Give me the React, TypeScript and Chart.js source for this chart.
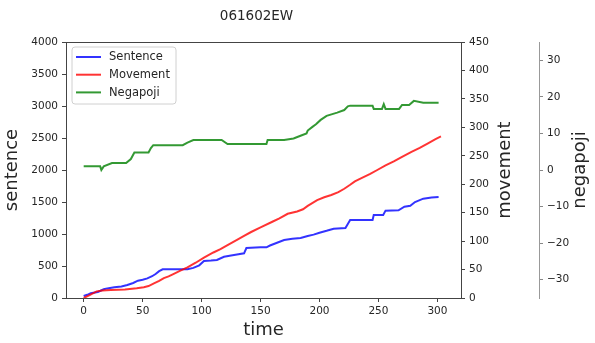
import React, { useEffect, useRef } from "react";
import { Chart, registerables } from "chart.js";

Chart.register(...registerables);

const chartTitle = "061602EW";
const seriesLabels = ["Sentence", "Movement", "Negapoji"];
const axisTitles = { x: "time", sentence: "sentence", movement: "movement", negapoji: "negapoji" };

const xTicks = [0, 50, 100, 150, 200, 250, 300];
const sentenceTicks = [0, 500, 1000, 1500, 2000, 2500, 3000, 3500, 4000];
const movementTicks = [0, 50, 100, 150, 200, 250, 300, 350, 400, 450];
const negapojiTicks = [-30, -20, -10, 0, 10, 20, 30];

const sentenceTime = [0, 3, 6, 12, 17, 20, 26, 32, 37, 42, 46, 50, 54, 58, 61, 64, 67, 88, 93, 98, 102, 108, 113, 119, 125, 130, 136, 138, 150, 155, 158, 164, 170, 177, 184, 190, 195, 200, 206, 212, 222, 226, 245, 246, 254, 256, 267, 272, 277, 281, 288, 295, 301];
const sentenceValues = [31, 50, 73, 95, 136, 150, 167, 180, 203, 235, 270, 285, 307, 340, 375, 420, 448, 448, 470, 511, 578, 585, 594, 645, 665, 680, 698, 780, 792, 792, 820, 864, 906, 925, 937, 969, 990, 1020, 1050, 1083, 1094, 1219, 1219, 1297, 1297, 1365, 1370, 1427, 1440, 1500, 1552, 1570, 1578];

const movementTime = [0, 5, 11, 16, 23, 35, 45, 51, 55, 60, 64, 68, 72, 76, 82, 88, 95, 102, 110, 116, 122, 130, 136, 142, 150, 160, 166, 173, 181, 186, 190, 198, 204, 210, 216, 221, 226, 230, 236, 243, 249, 256, 263, 270, 278, 285, 292, 298, 303];
const movementValues = [0, 5, 11.7, 13, 14, 15, 17, 19, 21, 26, 30, 35, 38, 42, 48, 54, 62, 71, 80, 86, 93, 102, 109, 116, 124, 134, 140, 148, 152, 156, 162, 172, 177, 181, 186, 192, 199, 205, 211, 218, 225, 233, 240, 248, 257, 264, 272, 279, 284];

const negapojiTime = [0, 14, 15, 17, 24, 36, 40, 43, 55, 57, 59, 84, 88, 93, 117, 122, 155, 156, 170, 178, 185, 189, 190, 194, 197, 201, 206, 215, 221, 224, 226, 245, 246, 253, 254.5, 256, 267.5, 270, 276, 280, 288, 301];
const negapojiValues = [1, 1, 0, 1, 1.9, 1.9, 3, 4.8, 4.8, 6, 6.8, 6.8, 7.5, 8.2, 8.2, 7.1, 7.1, 8.2, 8.2, 8.6, 9.5, 10, 10.8, 11.8, 12.5, 13.7, 14.8, 15.7, 16.4, 17.4, 17.6, 17.6, 16.7, 16.7, 18, 16.7, 16.7, 17.8, 17.8, 18.9, 18.4, 18.4];

const FONT = "'DejaVu Sans', sans-serif";
const TEXT = "#262626";
const SPINE = "#444";

const toPoints = (t: number[], v: number[]) => t.map((x, i) => ({ x, y: v[i] }));
const fmt = (v: number) => (v < 0 ? "\u2212" + Math.abs(v) : String(v));

const overlay = {
  id: "overlay",
  afterDraw(chart: any) {
    const { ctx, chartArea: a } = chart;
    ctx.save();
    // top spine
    ctx.strokeStyle = SPINE;
    ctx.lineWidth = 1;
    ctx.beginPath();
    ctx.moveTo(a.left, Math.round(a.top) + 0.5);
    ctx.lineTo(a.right, Math.round(a.top) + 0.5);
    ctx.stroke();

    // title
    ctx.fillStyle = TEXT;
    ctx.font = `13.5px ${FONT}`;
    ctx.textAlign = "center";
    ctx.textBaseline = "alphabetic";
    ctx.fillText(chartTitle, 256.5, 19.5);

    // right axis titles (rotated like matplotlib)
    const cy = (a.top + a.bottom) / 2;
    ctx.font = `18px ${FONT}`;
    ctx.textBaseline = "middle";
    const y1 = chart.scales.y1;
    const y2 = chart.scales.y2;
    [[y1.left + 44, axisTitles.movement], [y2.left + 41, axisTitles.negapoji]].forEach(([x, t]: any) => {
      ctx.save();
      ctx.translate(x, cy);
      ctx.rotate(-Math.PI / 2);
      ctx.fillText(t, 0, 0);
      ctx.restore();
    });

    // legend
    const bx = a.left + 6, by = a.top + 5, bw = 104, bh = 57;
    ctx.beginPath();
    const r = 3;
    ctx.moveTo(bx + r, by);
    ctx.arcTo(bx + bw, by, bx + bw, by + bh, r);
    ctx.arcTo(bx + bw, by + bh, bx, by + bh, r);
    ctx.arcTo(bx, by + bh, bx, by, r);
    ctx.arcTo(bx, by, bx + bw, by, r);
    ctx.closePath();
    ctx.fillStyle = "rgba(255,255,255,0.8)";
    ctx.fill();
    ctx.strokeStyle = "#d0d0d0";
    ctx.lineWidth = 1;
    ctx.stroke();
    ctx.font = `11.5px ${FONT}`;
    ctx.textAlign = "left";
    ctx.textBaseline = "middle";
    chart.data.datasets.forEach((ds: any, i: number) => {
      const yy = by + 10 + i * 17.7;
      ctx.strokeStyle = ds.borderColor;
      ctx.lineWidth = 2;
      ctx.beginPath();
      ctx.moveTo(bx + 4, yy);
      ctx.lineTo(bx + 29, yy);
      ctx.stroke();
      ctx.fillStyle = TEXT;
      ctx.fillText(ds.label, bx + 37, yy + 0.5);
    });
    ctx.restore();
  },
};

export default function App() {
  const ref = useRef<HTMLCanvasElement>(null);
  useEffect(() => {
    if (!ref.current) return;
    const tickFont = { family: FONT, size: 10.5 };
    const grid = (color: string) => ({ drawOnChartArea: false, drawTicks: true, tickLength: 4, color, lineWidth: 1 });
    const chart = new Chart(ref.current, {
      type: "line",
      data: {
        datasets: [
          { label: seriesLabels[0], data: toPoints(sentenceTime, sentenceValues), yAxisID: "y", borderColor: "rgba(0,0,255,0.8)", order: 2 },
          { label: seriesLabels[1], data: toPoints(movementTime, movementValues), yAxisID: "y1", borderColor: "rgba(255,0,0,0.8)", order: 1 },
          { label: seriesLabels[2], data: toPoints(negapojiTime, negapojiValues), yAxisID: "y2", borderColor: "rgba(0,128,0,0.8)", order: 0 },
        ].map((d) => ({ ...d, xAxisID: "x", borderWidth: 2, pointRadius: 0, tension: 0, fill: false })),
      },
      options: {
        responsive: false,
        animation: false,
        events: [],
        layout: { padding: { top: 42, left: 0, right: 0, bottom: 0 } },
        plugins: { legend: { display: false }, tooltip: { enabled: false }, title: { display: false } },
        scales: {
          x: {
            type: "linear",
            min: -15,
            max: 320,
            afterBuildTicks: (s: any) => { s.ticks = xTicks.map((value) => ({ value })); },
            afterFit: (s: any) => { s.height = 45; },
            grid: grid(SPINE),
            border: { display: true, color: SPINE, width: 1 },
            ticks: { font: tickFont, color: TEXT, padding: 3, maxRotation: 0, callback: (v: any) => fmt(v) },
            title: { display: true, text: axisTitles.x, font: { family: FONT, size: 18 }, color: TEXT, padding: { top: 0, bottom: 2 } },
          },
          y: {
            type: "linear",
            position: "left",
            min: 0,
            max: 4000,
            afterBuildTicks: (s: any) => { s.ticks = sentenceTicks.map((value) => ({ value })); },
            afterFit: (s: any) => { s.width = 66; },
            grid: grid(SPINE),
            border: { display: true, color: SPINE, width: 1 },
            ticks: { font: tickFont, color: TEXT, padding: 4, callback: (v: any) => fmt(v) },
            title: { display: true, text: axisTitles.sentence, font: { family: FONT, size: 18 }, color: TEXT, padding: { top: 2, bottom: 0 } },
          },
          y1: {
            type: "linear",
            position: "right",
            weight: 0,
            min: 0,
            max: 450,
            afterBuildTicks: (s: any) => { s.ticks = movementTicks.map((value) => ({ value })); },
            afterFit: (s: any) => { s.width = 78; },
            grid: grid(SPINE),
            border: { display: true, color: SPINE, width: 1 },
            ticks: { font: tickFont, color: TEXT, padding: 4, callback: (v: any) => fmt(v) },
            title: { display: false },
          },
          y2: {
            type: "linear",
            position: "right",
            weight: 1,
            min: -35,
            max: 35,
            afterBuildTicks: (s: any) => { s.ticks = negapojiTicks.map((value) => ({ value })); },
            afterFit: (s: any) => { s.width = 56; },
            grid: grid("#888"),
            border: { display: true, color: "#999", width: 1 },
            ticks: { font: tickFont, color: TEXT, padding: 4, callback: (v: any) => fmt(v) },
            title: { display: false },
          },
        },
      },
      plugins: [overlay],
    } as any);
    return () => chart.destroy();
  }, []);
  return (
    <div style={{ position: "fixed", left: 0, top: 0, width: 595, height: 343, background: "#fff" }}>
      <canvas ref={ref} width={595} height={343} />
    </div>
  );
}
